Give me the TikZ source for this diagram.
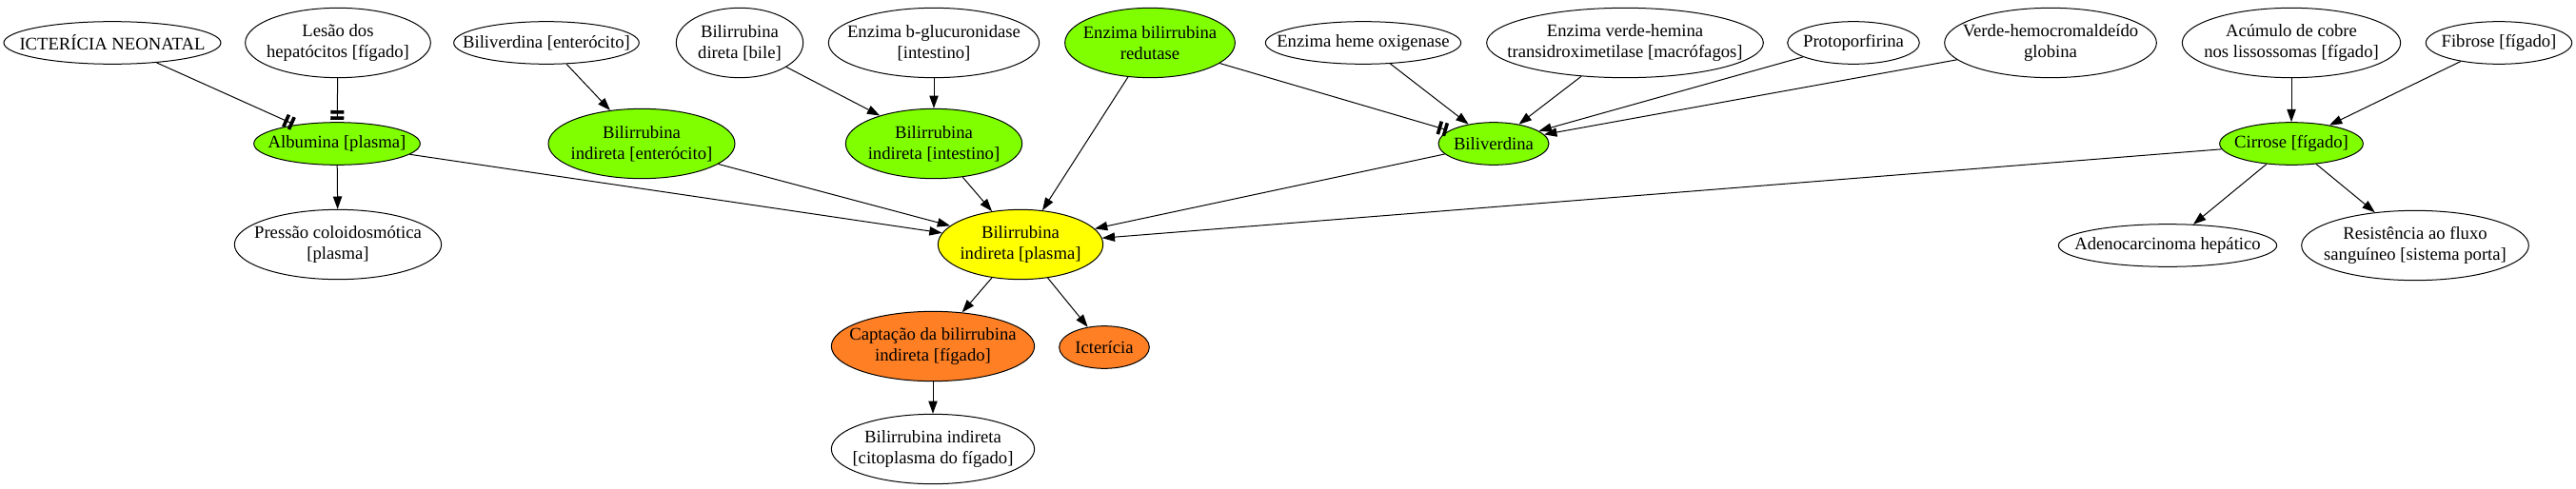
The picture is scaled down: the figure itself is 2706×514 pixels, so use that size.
\documentclass[tikz,border=0pt]{standalone}
\usepackage{fontspec}
\setmainfont{Liberation Serif}
\usetikzlibrary{shapes.geometric,arrows.meta}
\definecolor{gvgreen}{RGB}{127,255,0}
\definecolor{gvyellow}{RGB}{255,255,0}
\definecolor{gvorange}{RGB}{255,127,36}
\tikzset{
  gv/.style={ellipse,draw=black,line width=0.75pt,inner xsep=-40pt,inner ysep=-25pt,align=center,
    font=\fontsize{14}{16.3}\selectfont},
  one/.style={minimum height=33.5pt},
  two/.style={minimum height=55pt},
  gr/.style={fill=gvgreen},
  ye/.style={fill=gvyellow},
  og/.style={fill=gvorange},
  edge/.style={line width=0.75pt,-{Triangle[length=10pt,width=7pt]}},
  teeedge/.style={line width=0.75pt,-{Rectangle[length=2.7pt,width=10.5pt,sep=2pt]Rectangle[length=2.7pt,width=10.5pt,sep=1.7pt]}}
}
\begin{document}
\begin{tikzpicture}[x=0.75pt,y=-0.75pt]
\useasboundingbox (0,0) rectangle (2706,514);
% row 1
\node[gv,one,minimum width=171pt] (icn) at (118,45) {ICTERÍCIA NEONATAL};
\node[gv,two,minimum width=146pt] (lesao) at (355,45) {Lesão dos\\hepatócitos [fígado]};
\node[gv,one,minimum width=146pt] (bilient) at (574,45) {Biliverdina [enterócito]};
\node[gv,two,minimum width=100pt] (bdir) at (777,45) {Bilirrubina\\direta [bile]};
\node[gv,two,minimum width=166pt] (bglu) at (981,45) {Enzima b-glucuronidase\\{}[intestino]};
\node[gv,two,gr,minimum width=134pt] (bred) at (1208,45) {Enzima bilirrubina\\redutase};
\node[gv,one,minimum width=154pt] (heme) at (1432,45) {Enzima heme oxigenase};
\node[gv,two,minimum width=218pt] (verdeh) at (1707,45) {Enzima verde-hemina\\transidroximetilase [macrófagos]};
\node[gv,one,minimum width=104pt] (proto) at (1947,45) {Protoporfirina};
\node[gv,two,minimum width=167pt] (vhg) at (2154,45) {Verde-hemocromaldeído\\globina};
\node[gv,two,minimum width=172pt] (acu) at (2407,45) {Acúmulo de cobre\\nos lissossomas [fígado]};
\node[gv,one,minimum width=115pt] (fib) at (2625,45) {Fibrose [fígado]};
% row 2
\node[gv,one,gr,minimum width=131pt] (alb) at (354,151) {Albumina [plasma]};
\node[gv,two,gr,minimum width=147pt] (bient) at (674,151) {Bilirrubina\\indireta [enterócito]};
\node[gv,two,gr,minimum width=139pt] (biint) at (981,151) {Bilirrubina\\indireta [intestino]};
\node[gv,one,gr,minimum width=87pt] (biliv) at (1569,151) {Biliverdina};
\node[gv,one,gr,minimum width=113pt] (cirr) at (2407,151) {Cirrose [fígado]};
% row 3
\node[gv,two,minimum width=163pt] (press) at (355,257) {Pressão coloidosmótica\\{}[plasma]};
\node[gv,two,ye,minimum width=130pt] (biplas) at (1072,257) {Bilirrubina\\indireta [plasma]};
\node[gv,one,minimum width=172pt] (adeno) at (2277,258) {Adenocarcinoma hepático};
\node[gv,two,minimum width=179pt] (resist) at (2537,258) {Resistência ao fluxo\\sanguíneo [sistema porta]};
% row 4
\node[gv,two,og,minimum width=160pt] (capt) at (980,364) {Captação da bilirrubina\\indireta [fígado]};
\node[gv,one,og,minimum width=71pt] (ict) at (1160,365) {Icterícia};
% row 5
\node[gv,two,minimum width=160pt] (citop) at (980,472) {Bilirrubina indireta\\{}[citoplasma do fígado]};
% edges
\draw[teeedge] (icn) -- (alb);
\draw[teeedge] (lesao) -- (alb);
\draw[edge] (alb) -- (press);
\draw[edge] (alb) -- (biplas);
\draw[edge] (bilient) -- (bient);
\draw[edge] (bient) -- (biplas);
\draw[edge] (bdir) -- (biint);
\draw[edge] (bglu) -- (biint);
\draw[edge] (biint) -- (biplas);
\draw[edge] (bred) -- (biplas);
\draw[teeedge] (bred) -- (biliv);
\draw[edge] (heme) -- (biliv);
\draw[edge] (verdeh) -- (biliv);
\draw[edge] (proto) -- (biliv);
\draw[edge] (vhg) -- (biliv);
\draw[edge] (biliv) -- (biplas);
\draw[edge] (acu) -- (cirr);
\draw[edge] (fib) -- (cirr);
\draw[edge] (cirr) -- (biplas);
\draw[edge] (cirr) -- (adeno);
\draw[edge] (cirr) -- (resist);
\draw[edge] (biplas) -- (capt);
\draw[edge] (biplas) -- (ict);
\draw[edge] (capt) -- (citop);
\end{tikzpicture}
\end{document}
